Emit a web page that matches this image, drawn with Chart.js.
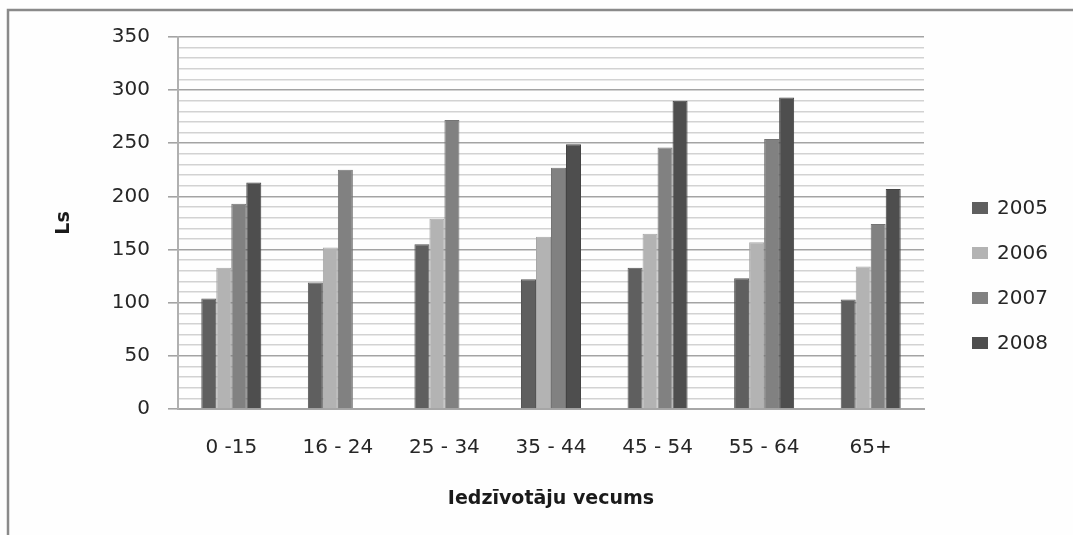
<!DOCTYPE html>
<html>
<head>
<meta charset="utf-8">
<script src="https://cdn.jsdelivr.net/npm/chart.js@4.4.0/dist/chart.umd.min.js"></script>
<style>
  html, body { margin: 0; padding: 0; background: #ffffff; }
  #wrap { width: 1073px; height: 535px; position: relative; }
</style>
</head>
<body>
<div id="wrap"><canvas id="chart" width="1073" height="535"></canvas></div>
<script>
// Average amount (Ls) by age group of residents, 2005–2008
const ageGroups = ['0 -15', '16 - 24', '25 - 34', '35 - 44', '45 - 54', '55 - 64', '65+'];
const years = ['2005', '2006', '2007', '2008'];
const values2005 = [104, 119, 155, 122, 133, 123, 103];
const values2006 = [133, 152, 179, 162, 165, 157, 134];
const values2007 = [193, 225, 272, 227, 246, 254, 174];
const values2008 = [213, null, null, 249, 290, 293, 207];
const yTickLabels = [0, 50, 100, 150, 200, 250, 300, 350];
const yTitle = 'Ls';
const xTitle = 'Iedzīvotāju vecums';

const yearColors = ['#5f5f5f', '#b3b3b3', '#818181', '#4e4e4e'];
const yearBorders = ['#555555', '#a6a6a6', '#747474', '#444444'];
const seriesValues = [values2005, values2006, values2007, values2008];

const FONT = "'DejaVu Sans', sans-serif";

// white sheet with a grey frame along the top and left edges
const framePlugin = {
  id: 'frame',
  beforeDraw(chart) {
    const ctx = chart.ctx;
    ctx.save();
    ctx.fillStyle = '#fefefe';
    ctx.fillRect(0, 0, chart.width, chart.height);
    ctx.strokeStyle = '#8a8a8a';
    ctx.lineWidth = 2.5;
    ctx.beginPath();
    ctx.moveTo(8, chart.height);
    ctx.lineTo(8, 10);
    ctx.lineTo(chart.width, 10);
    ctx.stroke();
    ctx.restore();
  }
};

// legend column to the right of the plot
const sideLegend = {
  id: 'sideLegend',
  afterDraw(chart) {
    const ctx = chart.ctx;
    const x = chart.chartArea.right + 48;
    const top = 208;
    const step = 45;
    ctx.save();
    ctx.font = '20px ' + FONT;
    ctx.textBaseline = 'middle';
    ctx.textAlign = 'left';
    chart.data.datasets.forEach((ds, i) => {
      const y = top + i * step;
      ctx.fillStyle = ds.backgroundColor;
      ctx.fillRect(x, y - 6, 16, 12);
      ctx.fillStyle = '#262626';
      ctx.fillText(ds.label, x + 25, y + 1);
    });
    ctx.restore();
  }
};

new Chart(document.getElementById('chart'), {
  type: 'bar',
  data: {
    labels: ageGroups,
    datasets: years.map((y, i) => ({
      label: y,
      data: seriesValues[i],
      backgroundColor: yearColors[i],
      borderColor: yearBorders[i],
      borderWidth: 1,
      categoryPercentage: 0.563,
      barPercentage: 1.0
    }))
  },
  options: {
    responsive: false,
    animation: false,
    devicePixelRatio: 1,
    layout: { padding: { left: 0, right: 149, top: 37, bottom: 0 } },
    plugins: {
      legend: { display: false },
      tooltip: { enabled: false }
    },
    scales: {
      x: {
        grid: { display: false, drawTicks: false },
        border: { color: '#a6a6a6', width: 2 },
        ticks: {
          color: '#262626',
          font: { family: FONT, size: 20 },
          padding: 27,
          maxRotation: 0
        },
        title: {
          display: true,
          text: xTitle,
          color: '#1a1a1a',
          font: { family: FONT, size: 19, weight: 'bold' },
          padding: { top: 0, bottom: 25 }
        },
        afterFit(scale) { scale.height = 126; }
      },
      y: {
        min: 0,
        max: 350,
        ticks: {
          stepSize: 10,
          color: '#262626',
          font: { family: FONT, size: 20 },
          padding: 18,
          autoSkip: false,
          callback: (v) => (yTickLabels.includes(v) ? String(v) : '')
        },
        grid: {
          color: (c) => (c.tick && yTickLabels.includes(c.tick.value) ? '#a3a3a3' : '#d2d2d2'),
          lineWidth: 1.6,
          tickLength: 10,
          tickColor: (c) => (c.tick && yTickLabels.includes(c.tick.value) ? '#a3a3a3' : 'rgba(0,0,0,0)')
        },
        border: { color: '#b0b0b0', width: 2 },
        title: {
          display: true,
          text: yTitle,
          color: '#1a1a1a',
          font: { family: FONT, size: 19, weight: 'bold' },
          padding: { top: 53, bottom: 0 }
        },
        afterFit(scale) { scale.width = 178; }
      }
    }
  },
  plugins: [framePlugin, sideLegend]
});
</script>
</body>
</html>
